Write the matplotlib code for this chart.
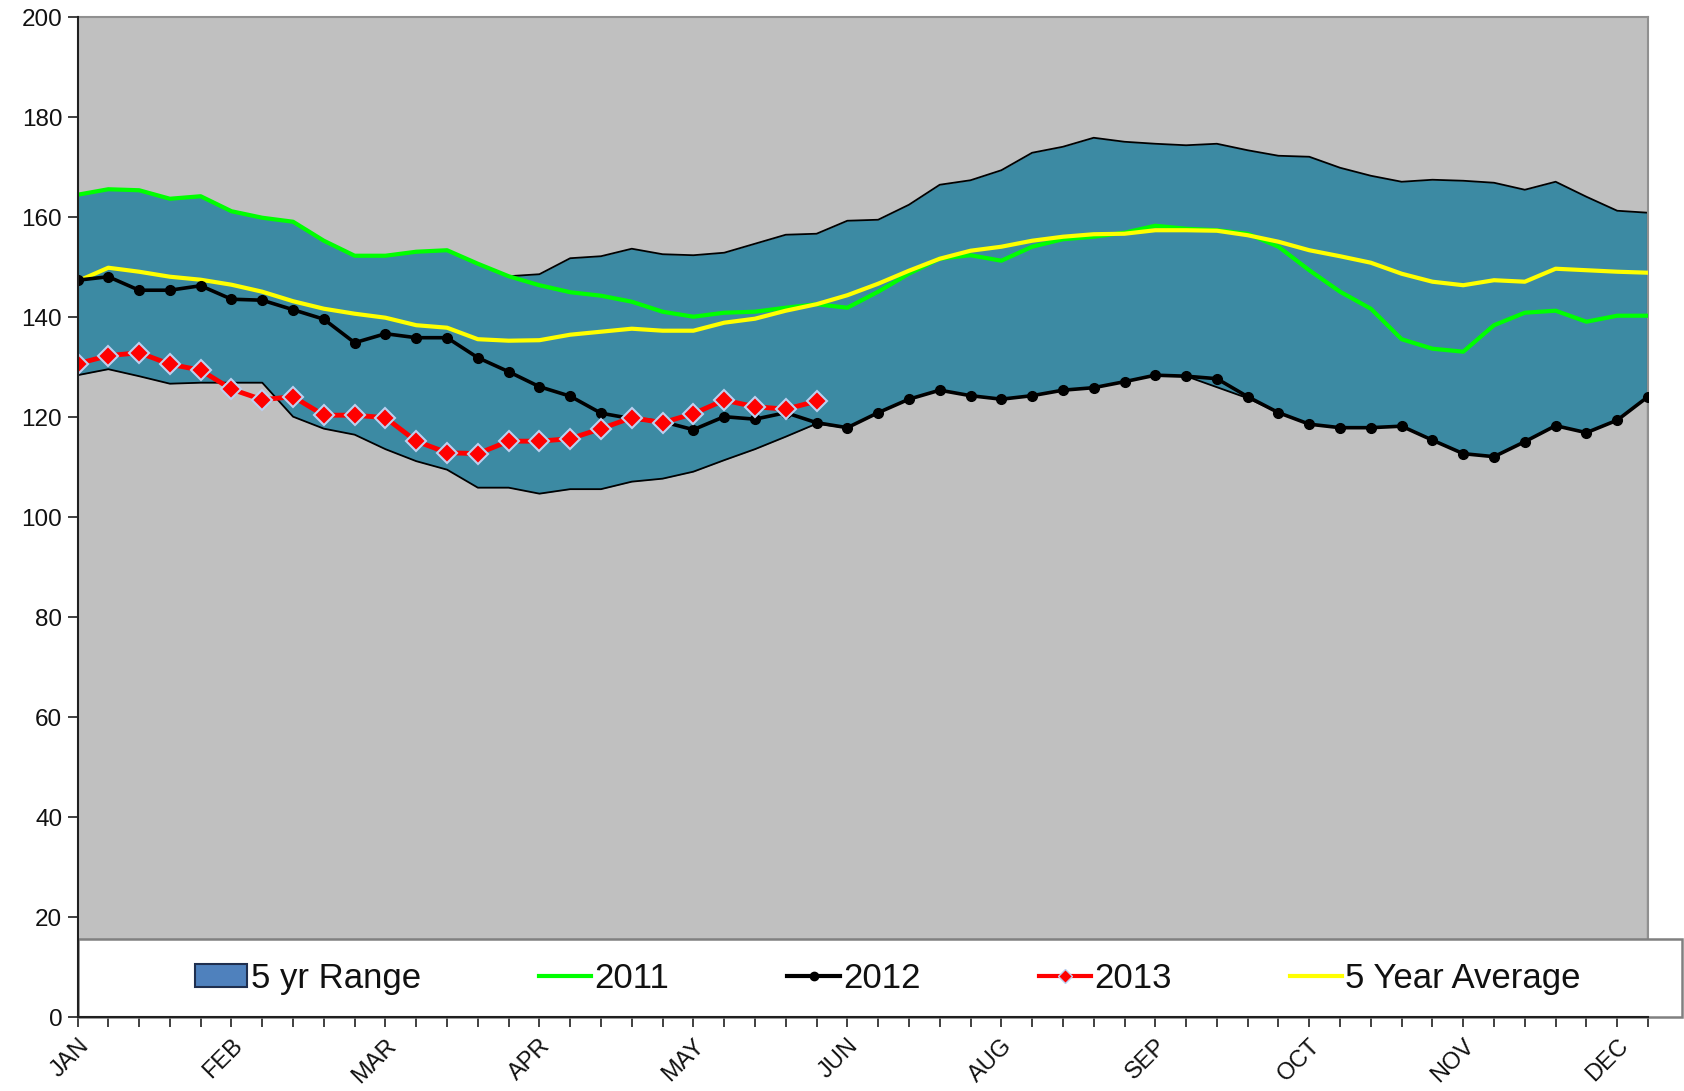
import matplotlib
matplotlib.use("Agg")
import matplotlib.pyplot as plt
from matplotlib.patches import Patch, Rectangle
from matplotlib.lines import Line2D
import numpy as np

plt.rcParams['font.family'] = ['Liberation Sans', 'DejaVu Sans']

weeks = list(range(52))
month_labels = ["JAN", "FEB", "MAR", "APR", "MAY", "JUN", "AUG", "SEP", "OCT", "NOV", "DEC"]
month_ticks = [0, 5, 10, 15, 20, 25, 30, 35, 40, 45, 50]

range_upper = [164.5, 165.6, 165.4, 163.7, 164.2, 161.2, 159.9, 159.1, 155.3, 152.3,
               152.3, 153.1, 153.4, 150.7, 148.2, 148.6, 151.8, 152.2, 153.7, 152.6,
               152.4, 152.9, 154.7, 156.5, 156.7, 159.3, 159.5, 162.5, 166.5, 167.4,
               169.4, 172.9, 174.1, 175.9, 175.1, 174.7, 174.4, 174.7, 173.4, 172.3,
               172.1, 169.9, 168.3, 167.1, 167.5, 167.3, 166.9, 165.5, 167.1, 164.1,
               161.3, 160.9]
range_lower = [128.4, 129.6, 128.2, 126.7, 126.9, 126.9, 126.9, 120.1, 117.7, 116.5,
               113.6, 111.2, 109.5, 105.9, 105.9, 104.7, 105.6, 105.6, 107.1, 107.7,
               109.1, 111.4, 113.6, 116.1, 118.7, 117.9, 120.9, 123.6, 125.4, 124.3,
               123.6, 124.3, 125.4, 125.9, 127.1, 128.4, 128.2, 126.0, 123.8, 120.9,
               118.6, 117.9, 117.9, 118.2, 115.4, 112.7, 112.1, 115.1, 118.3, 116.9,
               119.4, 124.1]
y2011 = [164.5, 165.6, 165.4, 163.7, 164.2, 161.2, 159.9, 159.1, 155.3, 152.3,
         152.3, 153.1, 153.4, 150.7, 148.2, 146.4, 145.0, 144.3, 143.1, 141.1,
         140.1, 140.9, 141.1, 141.9, 142.6, 141.9, 145.1, 148.7, 151.7, 152.4,
         151.3, 154.1, 155.6, 156.1, 156.9, 158.3, 157.7, 157.4, 156.7, 154.1,
         149.4, 145.1, 141.7, 135.6, 133.7, 133.1, 138.4, 140.9, 141.3, 139.1,
         140.3, 140.3]
y2012 = [147.4, 148.1, 145.4, 145.4, 146.3, 143.6, 143.4, 141.5, 139.6, 134.9,
         136.7, 135.9, 135.9, 131.9, 129.1, 126.1, 124.2, 120.8, 119.7, 119.1,
         117.5, 120.1, 119.6, 120.9, 118.9, 117.9, 120.9, 123.6, 125.4, 124.3,
         123.6, 124.3, 125.4, 125.9, 127.1, 128.4, 128.2, 127.7, 124.1, 120.9,
         118.6, 117.9, 117.9, 118.2, 115.4, 112.7, 112.1, 115.1, 118.3, 116.9,
         119.4, 124.1]
y2013 = [130.7, 132.3, 132.9, 130.6, 129.4, 125.6, 123.5, 124.1, 120.4, 120.4,
         119.9, 115.2, 112.9, 112.7, 115.2, 115.2, 115.7, 117.7, 119.9, 118.9,
         120.7, 123.4, 122.1, 121.6, 123.2]
avg5 = [147.2, 149.9, 149.1, 148.1, 147.5, 146.5, 145.1, 143.2, 141.7, 140.7,
        139.9, 138.4, 137.9, 135.6, 135.3, 135.4, 136.5, 137.1, 137.7, 137.3,
        137.3, 138.9, 139.7, 141.3, 142.6, 144.4, 146.7, 149.3, 151.7, 153.3,
        154.1, 155.3, 156.1, 156.6, 156.7, 157.4, 157.4, 157.3, 156.4, 155.1,
        153.4, 152.2, 150.9, 148.7, 147.1, 146.4, 147.4, 147.1, 149.7, 149.4,
        149.1, 148.9]

W, H = 1684, 1091
fig = plt.figure(figsize=(W / 100, H / 100), dpi=100)
L, R, T, B = 77.5, 1648, 17.3, 1017
ax = fig.add_axes([L / W, 1 - B / H, (R - L) / W, (B - T) / H])
ax.set_facecolor('#C0C0C0')

x = np.array(weeks)
teal = '#3C8AA3'
ax.fill_between(x, range_lower, range_upper, color=teal, lw=0, zorder=1)
ax.plot(x, range_upper, color='black', lw=1.3, zorder=2)
ax.plot(x, range_lower, color='black', lw=1.3, zorder=2)
ax.plot([x[-1], x[-1]], [0, range_upper[-1]], color='black', lw=1.5, zorder=2)

ax.plot(x, y2011, color='#00FF00', lw=3, zorder=3)
ax.plot(x, avg5, color='#FFFF00', lw=3, zorder=3)
ax.plot(x, y2012, color='black', lw=2.6, marker='o', ms=7, zorder=4)
x13 = np.arange(len(y2013))
ax.plot(x13, y2013, color='#FF0000', lw=3.5, marker='D', ms=10.5,
        mfc='#FF0000', mec='#BCD0F0', mew=1.5, zorder=5)

ax.set_xlim(0, 51)
ax.set_ylim(0, 200)
ax.set_yticks(range(0, 201, 20))
ax.set_xticks(weeks, minor=True)
ax.set_xticks(month_ticks)
ax.set_xticklabels(month_labels, rotation=45, ha='right', va='top',
                   rotation_mode='anchor')
ax.tick_params(axis='y', labelsize=17.5, length=7, width=1.2, direction='out', pad=4,
               colors='#202020', labelcolor='#111111')
ax.tick_params(axis='x', which='both', labelsize=17, length=7, width=1.2,
               direction='out', pad=6, colors='#202020', labelcolor='#111111')

for s in ['top', 'right']:
    ax.spines[s].set_color('#909090')
    ax.spines[s].set_linewidth(1.5)
for s in ['left', 'bottom']:
    ax.spines[s].set_color('#202020')
    ax.spines[s].set_linewidth(1.5)
    ax.spines[s].set_zorder(30)

# Legend box
box_w = (1682 - L) / (R - L)
box_h = 0.078
rect = Rectangle((0, 0), box_w, box_h, transform=ax.transAxes, facecolor='white',
                 edgecolor='#808080', lw=1.8, clip_on=False, zorder=15)
ax.add_patch(rect)

handles = [
    Patch(facecolor='#4F81BD', edgecolor='#1F2F4F', lw=1.5),
    Line2D([], [], color='#00FF00', lw=3),
    Line2D([], [], color='black', lw=3, marker='o', ms=6),
    Line2D([], [], color='#FF0000', lw=3, marker='D', ms=7, mfc='#FF0000',
           mec='#BCD0F0', mew=1),
    Line2D([], [], color='#FFFF00', lw=3),
]
labels = ['5 yr Range', '2011', '2012', '2013', '5 Year Average']
leg = ax.legend(handles, labels, ncol=5, loc='center',
                bbox_to_anchor=((888 - L) / (R - L), box_h / 2),
                frameon=False, fontsize=25, handlelength=1.5, handleheight=0.65,
                handletextpad=0.1, columnspacing=3.4, borderaxespad=0)
leg.set_zorder(20)
for t in leg.get_texts():
    t.set_color('#111111')

fig.savefig('out.png', dpi=100)
